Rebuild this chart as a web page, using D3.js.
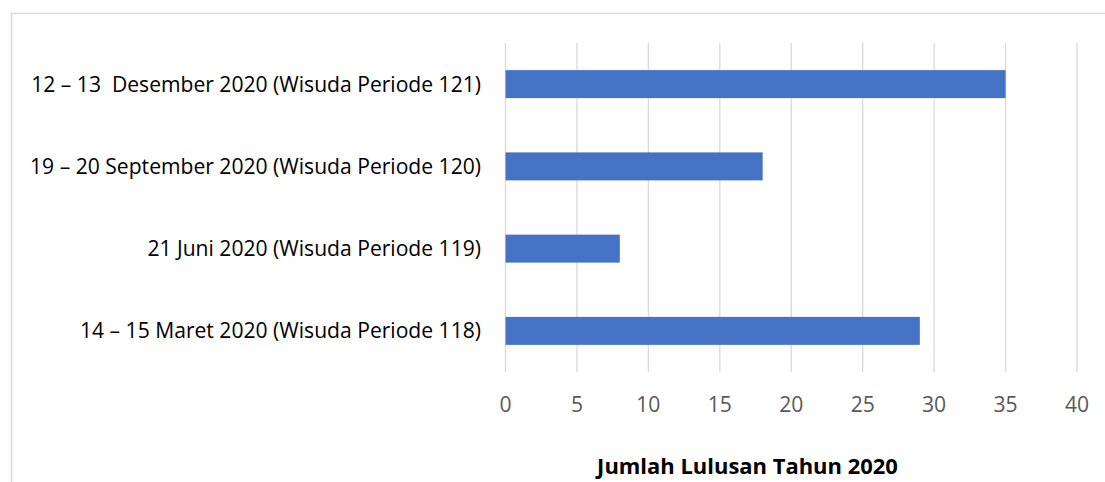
<!DOCTYPE html>
<html><head><meta charset="utf-8">
<script src="https://cdn.jsdelivr.net/npm/d3@7"></script>
<style>body{margin:0;background:#fff;} svg{display:block;} text{white-space:pre;}</style>
</head><body>
<svg id="c" width="1105" height="482"></svg>
<script>
const categories = [
  "12 – 13  Desember 2020 (Wisuda Periode 121)",
  "19 – 20 September 2020 (Wisuda Periode 120)",
  "21 Juni 2020 (Wisuda Periode 119)",
  "14 – 15 Maret 2020 (Wisuda Periode 118)"
];
const values = [35, 18, 8, 29];
const xTicks = [0, 5, 10, 15, 20, 25, 30, 35, 40];
const title = "Jumlah Lulusan Tahun 2020";

const svg = d3.select("#c");
const font = "'Open Sans', Lato, sans-serif";

svg.append("rect").attr("x", 11.5).attr("y", 13.5).attr("width", 1200).attr("height", 600)
  .attr("fill", "none").attr("stroke", "#d9d9d9").attr("stroke-width", 1.5);

const x = d3.scaleLinear().domain([0, 40]).range([505.5, 1077]);
const y = d3.scaleBand().domain(categories).range([43, 372]).paddingInner(0.66).paddingOuter(0.33);

svg.append("g").selectAll("line").data(xTicks).join("line")
  .attr("x1", d => x(d)).attr("x2", d => x(d)).attr("y1", 43).attr("y2", 372)
  .attr("stroke", "#d9d9d9").attr("stroke-width", 1.3);

svg.append("g").selectAll("rect").data(values).join("rect")
  .attr("x", x(0)).attr("y", (d, i) => y(categories[i]))
  .attr("width", d => x(d) - x(0)).attr("height", y.bandwidth())
  .attr("fill", "#4472c4");

const labels = svg.append("g").selectAll("text").data(categories).join("text")
  .attr("x", 481).attr("y", d => y(d) + y.bandwidth() / 2)
  .attr("dy", "0.35em").attr("text-anchor", "end")
  .attr("font-family", font).attr("font-size", 18).attr("fill", "#000")
  .text(d => d);
// fit first label to the reference width (~450px)
const w0 = labels.node().getComputedTextLength();
const fs = 18 * 450 / w0;
labels.attr("font-size", fs);

const ticks = svg.append("g").selectAll("text").data(xTicks).join("text")
  .attr("x", d => x(d)).attr("y", 412).attr("text-anchor", "middle")
  .attr("font-family", font).attr("font-size", fs).attr("fill", "#595959")
  .text(d => d);

const t = svg.append("text").attr("x", 747.5).attr("y", 474).attr("text-anchor", "middle")
  .attr("font-family", font).attr("font-size", 18).attr("font-weight", "bold").attr("fill", "#000")
  .text(title);
const tw = t.node().getComputedTextLength();
t.attr("font-size", 18 * 301 / tw);
</script>
</body></html>
